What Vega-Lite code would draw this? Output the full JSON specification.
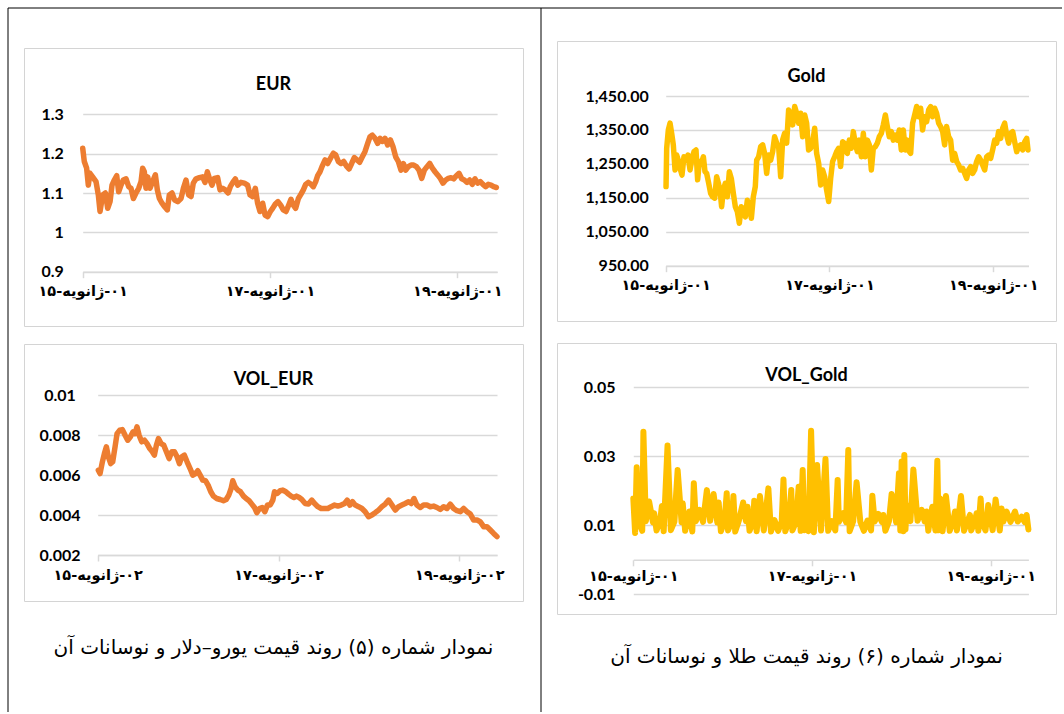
{
  "$schema": "https://vega.github.io/schema/vega-lite/v6.json",
  "padding": {"left": 7, "top": 7, "right": 0, "bottom": 0},
  "background": "#ffffff",
  "config": {
    "view": {"stroke": null},
    "font": "Lato",
    "title": {"font": "Lato", "fontSize": 18, "fontWeight": "bold", "color": "#000000", "anchor": "middle", "frame": "group", "baseline": "alphabetic"},
    "axis": {"labelFont": "Lato", "labelFontSize": 16, "labelFontWeight": "bold", "labelColor": "#000000", "domainColor": "#d9d9d9", "tickColor": "#d9d9d9", "gridColor": "#d9d9d9", "gridWidth": 1.5, "domainWidth": 1.5, "tickWidth": 1.5},
    "axisX": {"labelFont": "DejaVu Sans", "labelFontSize": 14.5, "tickSize": 6, "labelPadding": 7, "labelFlush": false, "labelOverlap": false, "grid": false},
    "axisY": {"domain": false, "ticks": false, "tickSize": 0, "grid": true}
  },
  "datasets": {
    "eur": [
      {"year":2015.000,"value":1.214},{"year":2015.017,"value":1.18},{"year":2015.042,"value":1.163},{"year":2015.060,"value":1.12},{"year":2015.078,"value":1.15},{"year":2015.106,"value":1.141},{"year":2015.142,"value":1.129},{"year":2015.167,"value":1.095},{"year":2015.185,"value":1.053},{"year":2015.213,"value":1.095},{"year":2015.242,"value":1.10},{"year":2015.267,"value":1.061},{"year":2015.292,"value":1.078},{"year":2015.313,"value":1.12},{"year":2015.338,"value":1.133},{"year":2015.363,"value":1.144},{"year":2015.384,"value":1.103},{"year":2015.409,"value":1.12},{"year":2015.434,"value":1.133},{"year":2015.463,"value":1.136},{"year":2015.491,"value":1.116},{"year":2015.516,"value":1.112},{"year":2015.541,"value":1.086},{"year":2015.569,"value":1.10},{"year":2015.598,"value":1.112},{"year":2015.623,"value":1.129},{"year":2015.640,"value":1.163},{"year":2015.658,"value":1.154},{"year":2015.676,"value":1.112},{"year":2015.694,"value":1.141},{"year":2015.719,"value":1.112},{"year":2015.747,"value":1.129},{"year":2015.776,"value":1.146},{"year":2015.797,"value":1.108},{"year":2015.819,"value":1.086},{"year":2015.847,"value":1.074},{"year":2015.875,"value":1.065},{"year":2015.904,"value":1.057},{"year":2015.925,"value":1.095},{"year":2015.954,"value":1.10},{"year":2015.982,"value":1.082},{"year":2016.014,"value":1.078},{"year":2016.050,"value":1.086},{"year":2016.075,"value":1.112},{"year":2016.103,"value":1.133},{"year":2016.132,"value":1.095},{"year":2016.157,"value":1.091},{"year":2016.181,"value":1.125},{"year":2016.210,"value":1.136},{"year":2016.246,"value":1.139},{"year":2016.281,"value":1.141},{"year":2016.306,"value":1.127},{"year":2016.331,"value":1.154},{"year":2016.359,"value":1.133},{"year":2016.381,"value":1.12},{"year":2016.406,"value":1.137},{"year":2016.441,"value":1.139},{"year":2016.466,"value":1.108},{"year":2016.495,"value":1.112},{"year":2016.523,"value":1.108},{"year":2016.552,"value":1.10},{"year":2016.576,"value":1.116},{"year":2016.608,"value":1.129},{"year":2016.630,"value":1.136},{"year":2016.655,"value":1.12},{"year":2016.690,"value":1.127},{"year":2016.726,"value":1.125},{"year":2016.761,"value":1.12},{"year":2016.787,"value":1.095},{"year":2016.815,"value":1.091},{"year":2016.843,"value":1.112},{"year":2016.868,"value":1.074},{"year":2016.893,"value":1.053},{"year":2016.922,"value":1.074},{"year":2016.947,"value":1.044},{"year":2016.975,"value":1.04},{"year":2017.004,"value":1.053},{"year":2017.028,"value":1.061},{"year":2017.057,"value":1.072},{"year":2017.085,"value":1.078},{"year":2017.114,"value":1.069},{"year":2017.142,"value":1.057},{"year":2017.171,"value":1.053},{"year":2017.199,"value":1.069},{"year":2017.224,"value":1.084},{"year":2017.249,"value":1.069},{"year":2017.274,"value":1.061},{"year":2017.303,"value":1.086},{"year":2017.331,"value":1.097},{"year":2017.356,"value":1.108},{"year":2017.381,"value":1.122},{"year":2017.409,"value":1.127},{"year":2017.438,"value":1.122},{"year":2017.463,"value":1.116},{"year":2017.488,"value":1.129},{"year":2017.509,"value":1.144},{"year":2017.534,"value":1.154},{"year":2017.559,"value":1.169},{"year":2017.588,"value":1.184},{"year":2017.616,"value":1.175},{"year":2017.645,"value":1.188},{"year":2017.676,"value":1.201},{"year":2017.701,"value":1.197},{"year":2017.730,"value":1.18},{"year":2017.758,"value":1.175},{"year":2017.787,"value":1.18},{"year":2017.815,"value":1.169},{"year":2017.844,"value":1.161},{"year":2017.872,"value":1.175},{"year":2017.900,"value":1.19},{"year":2017.929,"value":1.184},{"year":2017.957,"value":1.178},{"year":2017.986,"value":1.192},{"year":2018.014,"value":1.205},{"year":2018.043,"value":1.226},{"year":2018.068,"value":1.243},{"year":2018.093,"value":1.247},{"year":2018.121,"value":1.239},{"year":2018.150,"value":1.226},{"year":2018.175,"value":1.239},{"year":2018.199,"value":1.231},{"year":2018.228,"value":1.239},{"year":2018.256,"value":1.222},{"year":2018.285,"value":1.235},{"year":2018.313,"value":1.218},{"year":2018.342,"value":1.192},{"year":2018.370,"value":1.18},{"year":2018.399,"value":1.158},{"year":2018.424,"value":1.175},{"year":2018.449,"value":1.158},{"year":2018.477,"value":1.167},{"year":2018.506,"value":1.171},{"year":2018.534,"value":1.171},{"year":2018.563,"value":1.167},{"year":2018.591,"value":1.158},{"year":2018.620,"value":1.137},{"year":2018.648,"value":1.158},{"year":2018.677,"value":1.167},{"year":2018.705,"value":1.175},{"year":2018.734,"value":1.163},{"year":2018.762,"value":1.154},{"year":2018.790,"value":1.146},{"year":2018.819,"value":1.137},{"year":2018.847,"value":1.125},{"year":2018.876,"value":1.133},{"year":2018.904,"value":1.137},{"year":2018.933,"value":1.139},{"year":2018.961,"value":1.136},{"year":2018.990,"value":1.144},{"year":2019.018,"value":1.15},{"year":2019.047,"value":1.136},{"year":2019.075,"value":1.133},{"year":2019.104,"value":1.127},{"year":2019.132,"value":1.133},{"year":2019.160,"value":1.122},{"year":2019.189,"value":1.136},{"year":2019.217,"value":1.125},{"year":2019.246,"value":1.129},{"year":2019.274,"value":1.122},{"year":2019.303,"value":1.116},{"year":2019.331,"value":1.122},{"year":2019.360,"value":1.12},{"year":2019.388,"value":1.116},{"year":2019.417,"value":1.114}
    ],
    "voleur": [
      {"year":2015.007,"value":0.00625},{"year":2015.026,"value":0.00608},{"year":2015.052,"value":0.00667},{"year":2015.074,"value":0.00708},{"year":2015.096,"value":0.00742},{"year":2015.118,"value":0.00692},{"year":2015.144,"value":0.00658},{"year":2015.166,"value":0.00667},{"year":2015.192,"value":0.00742},{"year":2015.214,"value":0.00808},{"year":2015.244,"value":0.00825},{"year":2015.273,"value":0.00828},{"year":2015.303,"value":0.008},{"year":2015.332,"value":0.00775},{"year":2015.362,"value":0.00792},{"year":2015.391,"value":0.00817},{"year":2015.413,"value":0.00808},{"year":2015.435,"value":0.00842},{"year":2015.458,"value":0.008},{"year":2015.487,"value":0.00767},{"year":2015.517,"value":0.00775},{"year":2015.546,"value":0.00758},{"year":2015.576,"value":0.00733},{"year":2015.605,"value":0.00717},{"year":2015.627,"value":0.007},{"year":2015.649,"value":0.0075},{"year":2015.672,"value":0.00783},{"year":2015.701,"value":0.00758},{"year":2015.731,"value":0.0075},{"year":2015.760,"value":0.00717},{"year":2015.790,"value":0.00683},{"year":2015.819,"value":0.00717},{"year":2015.849,"value":0.00717},{"year":2015.878,"value":0.00692},{"year":2015.904,"value":0.00658},{"year":2015.930,"value":0.00692},{"year":2015.959,"value":0.007},{"year":2015.989,"value":0.00667},{"year":2016.022,"value":0.00633},{"year":2016.052,"value":0.006},{"year":2016.081,"value":0.00608},{"year":2016.107,"value":0.00622},{"year":2016.133,"value":0.006},{"year":2016.162,"value":0.00575},{"year":2016.192,"value":0.00572},{"year":2016.221,"value":0.0055},{"year":2016.251,"value":0.00517},{"year":2016.280,"value":0.00495},{"year":2016.317,"value":0.00483},{"year":2016.354,"value":0.00478},{"year":2016.391,"value":0.00472},{"year":2016.421,"value":0.00478},{"year":2016.450,"value":0.005},{"year":2016.476,"value":0.00533},{"year":2016.494,"value":0.00572},{"year":2016.520,"value":0.00542},{"year":2016.550,"value":0.00525},{"year":2016.579,"value":0.00517},{"year":2016.613,"value":0.00495},{"year":2016.642,"value":0.00483},{"year":2016.675,"value":0.00472},{"year":2016.705,"value":0.00455},{"year":2016.734,"value":0.00438},{"year":2016.760,"value":0.00412},{"year":2016.790,"value":0.00433},{"year":2016.819,"value":0.00438},{"year":2016.849,"value":0.00417},{"year":2016.878,"value":0.0045},{"year":2016.908,"value":0.0045},{"year":2016.937,"value":0.00475},{"year":2016.956,"value":0.00517},{"year":2016.985,"value":0.00508},{"year":2017.018,"value":0.00522},{"year":2017.048,"value":0.00525},{"year":2017.081,"value":0.00517},{"year":2017.111,"value":0.00505},{"year":2017.140,"value":0.00495},{"year":2017.170,"value":0.00488},{"year":2017.199,"value":0.00495},{"year":2017.229,"value":0.00488},{"year":2017.258,"value":0.00478},{"year":2017.295,"value":0.00458},{"year":2017.332,"value":0.00455},{"year":2017.369,"value":0.00475},{"year":2017.399,"value":0.00458},{"year":2017.435,"value":0.00442},{"year":2017.472,"value":0.00433},{"year":2017.509,"value":0.00433},{"year":2017.546,"value":0.00433},{"year":2017.583,"value":0.00442},{"year":2017.620,"value":0.0045},{"year":2017.657,"value":0.00445},{"year":2017.694,"value":0.0045},{"year":2017.731,"value":0.00458},{"year":2017.760,"value":0.00475},{"year":2017.790,"value":0.0045},{"year":2017.819,"value":0.00467},{"year":2017.849,"value":0.0045},{"year":2017.886,"value":0.00442},{"year":2017.923,"value":0.00433},{"year":2017.959,"value":0.00417},{"year":2017.996,"value":0.00392},{"year":2018.033,"value":0.004},{"year":2018.070,"value":0.00412},{"year":2018.107,"value":0.00425},{"year":2018.144,"value":0.00442},{"year":2018.181,"value":0.00455},{"year":2018.218,"value":0.00475},{"year":2018.255,"value":0.0045},{"year":2018.292,"value":0.00425},{"year":2018.328,"value":0.00442},{"year":2018.365,"value":0.0045},{"year":2018.402,"value":0.00458},{"year":2018.439,"value":0.00467},{"year":2018.469,"value":0.00458},{"year":2018.498,"value":0.00483},{"year":2018.531,"value":0.0045},{"year":2018.568,"value":0.00438},{"year":2018.605,"value":0.0045},{"year":2018.642,"value":0.0045},{"year":2018.679,"value":0.00442},{"year":2018.716,"value":0.00445},{"year":2018.753,"value":0.00438},{"year":2018.790,"value":0.00428},{"year":2018.827,"value":0.00442},{"year":2018.863,"value":0.00433},{"year":2018.900,"value":0.00455},{"year":2018.937,"value":0.00433},{"year":2018.974,"value":0.00422},{"year":2019.011,"value":0.00417},{"year":2019.048,"value":0.00433},{"year":2019.085,"value":0.00417},{"year":2019.122,"value":0.00405},{"year":2019.159,"value":0.00375},{"year":2019.196,"value":0.00375},{"year":2019.232,"value":0.00367},{"year":2019.269,"value":0.00342},{"year":2019.306,"value":0.00342},{"year":2019.343,"value":0.00325},{"year":2019.380,"value":0.00308},{"year":2019.417,"value":0.00292}
    ],
    "gold": [
      {"year":2015.004,"value":1183},{"year":2015.012,"value":1296},{"year":2015.032,"value":1350},{"year":2015.053,"value":1370},{"year":2015.073,"value":1340},{"year":2015.093,"value":1306},{"year":2015.114,"value":1232},{"year":2015.134,"value":1276},{"year":2015.154,"value":1261},{"year":2015.175,"value":1237},{"year":2015.199,"value":1217},{"year":2015.223,"value":1271},{"year":2015.248,"value":1261},{"year":2015.272,"value":1276},{"year":2015.297,"value":1232},{"year":2015.321,"value":1266},{"year":2015.346,"value":1286},{"year":2015.370,"value":1291},{"year":2015.390,"value":1203},{"year":2015.411,"value":1257},{"year":2015.435,"value":1252},{"year":2015.460,"value":1271},{"year":2015.480,"value":1227},{"year":2015.500,"value":1222},{"year":2015.525,"value":1193},{"year":2015.549,"value":1163},{"year":2015.573,"value":1153},{"year":2015.598,"value":1149},{"year":2015.622,"value":1212},{"year":2015.643,"value":1193},{"year":2015.663,"value":1173},{"year":2015.683,"value":1124},{"year":2015.704,"value":1173},{"year":2015.728,"value":1193},{"year":2015.753,"value":1153},{"year":2015.777,"value":1227},{"year":2015.801,"value":1207},{"year":2015.826,"value":1163},{"year":2015.850,"value":1124},{"year":2015.875,"value":1109},{"year":2015.899,"value":1075},{"year":2015.923,"value":1124},{"year":2015.948,"value":1114},{"year":2015.972,"value":1094},{"year":2015.997,"value":1143},{"year":2016.021,"value":1124},{"year":2016.046,"value":1090},{"year":2016.070,"value":1153},{"year":2016.094,"value":1183},{"year":2016.111,"value":1261},{"year":2016.135,"value":1271},{"year":2016.160,"value":1301},{"year":2016.184,"value":1306},{"year":2016.208,"value":1281},{"year":2016.233,"value":1222},{"year":2016.257,"value":1276},{"year":2016.282,"value":1261},{"year":2016.306,"value":1286},{"year":2016.330,"value":1330},{"year":2016.355,"value":1311},{"year":2016.379,"value":1301},{"year":2016.404,"value":1212},{"year":2016.428,"value":1321},{"year":2016.452,"value":1340},{"year":2016.477,"value":1311},{"year":2016.501,"value":1409},{"year":2016.526,"value":1394},{"year":2016.550,"value":1365},{"year":2016.575,"value":1419},{"year":2016.599,"value":1399},{"year":2016.623,"value":1370},{"year":2016.648,"value":1399},{"year":2016.672,"value":1330},{"year":2016.697,"value":1394},{"year":2016.721,"value":1370},{"year":2016.745,"value":1291},{"year":2016.770,"value":1296},{"year":2016.794,"value":1311},{"year":2016.819,"value":1355},{"year":2016.843,"value":1281},{"year":2016.868,"value":1252},{"year":2016.892,"value":1188},{"year":2016.916,"value":1232},{"year":2016.941,"value":1212},{"year":2016.965,"value":1173},{"year":2016.990,"value":1139},{"year":2017.014,"value":1207},{"year":2017.038,"value":1257},{"year":2017.063,"value":1271},{"year":2017.087,"value":1286},{"year":2017.112,"value":1296},{"year":2017.136,"value":1242},{"year":2017.161,"value":1315},{"year":2017.181,"value":1311},{"year":2017.193,"value":1291},{"year":2017.218,"value":1281},{"year":2017.242,"value":1320},{"year":2017.267,"value":1296},{"year":2017.291,"value":1345},{"year":2017.315,"value":1311},{"year":2017.340,"value":1286},{"year":2017.364,"value":1320},{"year":2017.389,"value":1271},{"year":2017.413,"value":1340},{"year":2017.437,"value":1271},{"year":2017.462,"value":1320},{"year":2017.486,"value":1306},{"year":2017.511,"value":1232},{"year":2017.535,"value":1296},{"year":2017.560,"value":1301},{"year":2017.584,"value":1311},{"year":2017.608,"value":1330},{"year":2017.633,"value":1340},{"year":2017.657,"value":1365},{"year":2017.682,"value":1394},{"year":2017.706,"value":1360},{"year":2017.730,"value":1330},{"year":2017.755,"value":1345},{"year":2017.779,"value":1320},{"year":2017.804,"value":1335},{"year":2017.828,"value":1320},{"year":2017.852,"value":1350},{"year":2017.877,"value":1291},{"year":2017.901,"value":1350},{"year":2017.926,"value":1291},{"year":2017.950,"value":1320},{"year":2017.975,"value":1286},{"year":2017.991,"value":1281},{"year":2018.015,"value":1370},{"year":2018.040,"value":1394},{"year":2018.064,"value":1419},{"year":2018.089,"value":1389},{"year":2018.113,"value":1414},{"year":2018.137,"value":1350},{"year":2018.162,"value":1389},{"year":2018.186,"value":1374},{"year":2018.211,"value":1409},{"year":2018.235,"value":1419},{"year":2018.259,"value":1389},{"year":2018.284,"value":1414},{"year":2018.308,"value":1399},{"year":2018.333,"value":1370},{"year":2018.357,"value":1360},{"year":2018.382,"value":1345},{"year":2018.406,"value":1306},{"year":2018.430,"value":1360},{"year":2018.455,"value":1330},{"year":2018.479,"value":1320},{"year":2018.504,"value":1261},{"year":2018.528,"value":1281},{"year":2018.553,"value":1257},{"year":2018.577,"value":1247},{"year":2018.601,"value":1232},{"year":2018.626,"value":1237},{"year":2018.650,"value":1222},{"year":2018.675,"value":1207},{"year":2018.699,"value":1232},{"year":2018.724,"value":1242},{"year":2018.748,"value":1222},{"year":2018.772,"value":1232},{"year":2018.797,"value":1257},{"year":2018.821,"value":1271},{"year":2018.846,"value":1261},{"year":2018.870,"value":1247},{"year":2018.895,"value":1232},{"year":2018.919,"value":1271},{"year":2018.943,"value":1276},{"year":2018.968,"value":1266},{"year":2018.992,"value":1291},{"year":2019.017,"value":1320},{"year":2019.041,"value":1311},{"year":2019.065,"value":1345},{"year":2019.090,"value":1325},{"year":2019.114,"value":1355},{"year":2019.139,"value":1370},{"year":2019.163,"value":1335},{"year":2019.188,"value":1311},{"year":2019.212,"value":1340},{"year":2019.237,"value":1345},{"year":2019.261,"value":1315},{"year":2019.286,"value":1286},{"year":2019.310,"value":1301},{"year":2019.334,"value":1306},{"year":2019.359,"value":1291},{"year":2019.383,"value":1315},{"year":2019.408,"value":1325},{"year":2019.424,"value":1291}
    ],
    "volgold": [
      {"year":2015.000,"value":0.0178},{"year":2015.020,"value":0.0078},{"year":2015.038,"value":0.0268},{"year":2015.060,"value":0.0110},{"year":2015.100,"value":0.0084},{"year":2015.113,"value":0.0371},{"year":2015.140,"value":0.0112},{"year":2015.177,"value":0.0169},{"year":2015.220,"value":0.0108},{"year":2015.233,"value":0.0135},{"year":2015.260,"value":0.0085},{"year":2015.300,"value":0.0113},{"year":2015.320,"value":0.0156},{"year":2015.340,"value":0.0083},{"year":2015.383,"value":0.0331},{"year":2015.420,"value":0.0086},{"year":2015.460,"value":0.0111},{"year":2015.496,"value":0.026},{"year":2015.540,"value":0.0109},{"year":2015.553,"value":0.0164},{"year":2015.580,"value":0.0084},{"year":2015.628,"value":0.014},{"year":2015.660,"value":0.0082},{"year":2015.677,"value":0.0222},{"year":2015.700,"value":0.0112},{"year":2015.741,"value":0.0145},{"year":2015.780,"value":0.0110},{"year":2015.823,"value":0.0202},{"year":2015.860,"value":0.0113},{"year":2015.898,"value":0.0191},{"year":2015.940,"value":0.0108},{"year":2015.955,"value":0.0166},{"year":2015.980,"value":0.0083},{"year":2016.020,"value":0.0111},{"year":2016.045,"value":0.0193},{"year":2016.060,"value":0.0085},{"year":2016.100,"value":0.0110},{"year":2016.120,"value":0.0185},{"year":2016.140,"value":0.0082},{"year":2016.180,"value":0.0113},{"year":2016.229,"value":0.0166},{"year":2016.260,"value":0.0112},{"year":2016.278,"value":0.0154},{"year":2016.300,"value":0.0084},{"year":2016.340,"value":0.0109},{"year":2016.353,"value":0.0171},{"year":2016.380,"value":0.0083},{"year":2016.417,"value":0.0185},{"year":2016.460,"value":0.0085},{"year":2016.511,"value":0.0207},{"year":2016.540,"value":0.0082},{"year":2016.580,"value":0.0115},{"year":2016.620,"value":0.0084},{"year":2016.660,"value":0.0111},{"year":2016.680,"value":0.0233},{"year":2016.700,"value":0.0083},{"year":2016.740,"value":0.0112},{"year":2016.767,"value":0.0202},{"year":2016.780,"value":0.0085},{"year":2016.820,"value":0.0110},{"year":2016.850,"value":0.0212},{"year":2016.872,"value":0.0084},{"year":2016.895,"value":0.026},{"year":2016.913,"value":0.0086},{"year":2016.932,"value":0.014},{"year":2016.960,"value":0.0083},{"year":2016.989,"value":0.0374},{"year":2017.020,"value":0.0080},{"year":2017.056,"value":0.0275},{"year":2017.100,"value":0.0085},{"year":2017.150,"value":0.0292},{"year":2017.180,"value":0.0084},{"year":2017.220,"value":0.0112},{"year":2017.260,"value":0.0085},{"year":2017.286,"value":0.0231},{"year":2017.300,"value":0.0110},{"year":2017.349,"value":0.0135},{"year":2017.380,"value":0.0109},{"year":2017.405,"value":0.0318},{"year":2017.420,"value":0.0083},{"year":2017.460,"value":0.0112},{"year":2017.498,"value":0.0225},{"year":2017.540,"value":0.0110},{"year":2017.580,"value":0.0084},{"year":2017.620,"value":0.0114},{"year":2017.660,"value":0.0085},{"year":2017.674,"value":0.0186},{"year":2017.700,"value":0.0111},{"year":2017.741,"value":0.0133},{"year":2017.780,"value":0.0110},{"year":2017.797,"value":0.013},{"year":2017.820,"value":0.0084},{"year":2017.860,"value":0.0112},{"year":2017.890,"value":0.0191},{"year":2017.940,"value":0.0109},{"year":2017.972,"value":0.0251},{"year":2017.987,"value":0.0085},{"year":2018.002,"value":0.0285},{"year":2018.020,"value":0.0083},{"year":2018.032,"value":0.0304},{"year":2018.045,"value":0.0088},{"year":2018.058,"value":0.0159},{"year":2018.100,"value":0.0112},{"year":2018.133,"value":0.0262},{"year":2018.180,"value":0.0113},{"year":2018.226,"value":0.0145},{"year":2018.260,"value":0.0111},{"year":2018.281,"value":0.014},{"year":2018.300,"value":0.0084},{"year":2018.345,"value":0.0154},{"year":2018.380,"value":0.0085},{"year":2018.401,"value":0.0287},{"year":2018.416,"value":0.0086},{"year":2018.431,"value":0.0178},{"year":2018.460,"value":0.0083},{"year":2018.498,"value":0.0185},{"year":2018.540,"value":0.0084},{"year":2018.580,"value":0.0113},{"year":2018.599,"value":0.014},{"year":2018.620,"value":0.0085},{"year":2018.666,"value":0.0185},{"year":2018.700,"value":0.0084},{"year":2018.740,"value":0.0112},{"year":2018.766,"value":0.013},{"year":2018.780,"value":0.0085},{"year":2018.820,"value":0.0111},{"year":2018.841,"value":0.0135},{"year":2018.860,"value":0.0084},{"year":2018.886,"value":0.0178},{"year":2018.900,"value":0.0110},{"year":2018.940,"value":0.0085},{"year":2018.971,"value":0.0159},{"year":2019.020,"value":0.0086},{"year":2019.053,"value":0.0175},{"year":2019.100,"value":0.0085},{"year":2019.120,"value":0.0149},{"year":2019.140,"value":0.0111},{"year":2019.176,"value":0.014},{"year":2019.220,"value":0.0110},{"year":2019.270,"value":0.014},{"year":2019.300,"value":0.0111},{"year":2019.344,"value":0.0125},{"year":2019.380,"value":0.0109},{"year":2019.400,"value":0.013},{"year":2019.420,"value":0.0088}
    ]
  },
  "concat": [
    {
      "concat": [
        {
          "width": 533, "height": 704,
          "data": {"values": [{}]},
          "layer": [
            {"mark": {"type": "rule", "color": "#000000", "strokeWidth": 1}, "encoding": {"x": {"datum": 0, "type": "quantitative", "scale": {"domain": [0, 1], "nice": false, "zero": false}, "axis": null}}},
            {"mark": {"type": "rule", "color": "#000000", "strokeWidth": 1}, "encoding": {"y": {"datum": 1, "type": "quantitative", "scale": {"domain": [0, 1], "nice": false, "zero": false}, "axis": null}}}
          ]
        },
        {
          "vconcat": [
            {"width": 499, "height": 23, "data": {"values": []}, "mark": "point", "encoding": {}},
            {
              "width": 499, "height": 278,
              "view": {"stroke": "#d4d4d4", "strokeWidth": 1},
              "title": {"text": "EUR", "offset": -46},
              "data": {"name": "eur"},
              "mark": {"type": "line", "color": "#ED7D31", "strokeWidth": 5.5, "strokeJoin": "round", "strokeCap": "round"},
              "encoding": {
                "x": {"field": "year", "type": "quantitative",
                  "scale": {"domain": [2015, 2019.425], "range": [58.7, 473.1], "nice": false, "zero": false},
                  "axis": {"orient": "bottom", "offset": -54.3, "values": [2015, 2017, 2019], "title": null,
                    "labelExpr": "datum.value == 2015 ? '\u200f۰۱-ژانویه-۱۵' : datum.value == 2017 ? '\u200f۰۱-ژانویه-۱۷' : '\u200f۰۱-ژانویه-۱۹'"}},
                "y": {"field": "value", "type": "quantitative",
                  "scale": {"domain": [0.9, 1.3], "range": [223.7, 66.3], "nice": false, "zero": false},
                  "axis": {"orient": "left", "offset": -58.7, "values": [0.9, 1.0, 1.1, 1.2, 1.3], "format": "~g", "labelPadding": 19.4, "title": null}}
              }
            },
            {
              "width": 499, "height": 257,
              "view": {"stroke": "#d4d4d4", "strokeWidth": 1},
              "title": {"text": "VOL_EUR", "offset": -45},
              "data": {"name": "voleur"},
              "mark": {"type": "line", "color": "#ED7D31", "strokeWidth": 5.5, "strokeJoin": "round", "strokeCap": "round"},
              "encoding": {
                "x": {"field": "year", "type": "quantitative",
                  "scale": {"domain": [2015, 2019.417], "range": [73.7, 473], "nice": false, "zero": false},
                  "axis": {"orient": "bottom", "offset": -46, "values": [2015, 2017, 2019], "title": null,
                    "labelExpr": "datum.value == 2015 ? '\u200f۰۲-ژانویه-۱۵' : datum.value == 2017 ? '\u200f۰۲-ژانویه-۱۷' : '\u200f۰۲-ژانویه-۱۹'"}},
                "y": {"field": "value", "type": "quantitative",
                  "scale": {"domain": [0.002, 0.01], "range": [211, 51.3], "nice": false, "zero": false},
                  "axis": {"orient": "left", "offset": -73.7, "values": [0.002, 0.004, 0.006, 0.008, 0.01], "format": "~g", "labelAlign": "center", "labelPadding": 38.2, "title": null}}
              }
            },
            {
              "width": 499, "height": 60,
              "data": {"values": [{"caption": "نمودار شماره (۵) روند قیمت یورو–دلار و نوسانات آن"}]},
              "mark": {"type": "text", "font": "DejaVu Sans", "fontSize": 20, "dir": "rtl", "color": "#000000"},
              "encoding": {"text": {"field": "caption", "type": "nominal"}}
            }
          ],
          "spacing": 16
        }
      ],
      "columns": 2,
      "align": "none",
      "spacing": -519
    },
    {
      "concat": [
        {
          "width": 521, "height": 704,
          "data": {"values": [{}]},
          "layer": [
            {"mark": {"type": "rule", "color": "#000000", "strokeWidth": 1}, "encoding": {"x": {"datum": 0, "type": "quantitative", "scale": {"domain": [0, 1], "nice": false, "zero": false}, "axis": null}}},
            {"mark": {"type": "rule", "color": "#000000", "strokeWidth": 1}, "encoding": {"y": {"datum": 1, "type": "quantitative", "scale": {"domain": [0, 1], "nice": false, "zero": false}, "axis": null}}}
          ]
        },
        {
          "vconcat": [
            {"width": 499, "height": 12, "data": {"values": []}, "mark": "point", "encoding": {}},
            {
              "width": 499, "height": 280,
              "view": {"stroke": "#d4d4d4", "strokeWidth": 1},
              "title": {"text": "Gold", "offset": -45.3},
              "data": {"name": "gold"},
              "mark": {"type": "line", "color": "#FFC000", "strokeWidth": 5.5, "strokeJoin": "round", "strokeCap": "round"},
              "encoding": {
                "x": {"field": "year", "type": "quantitative",
                  "scale": {"domain": [2015, 2019.43], "range": [108.7, 471.5], "nice": false, "zero": false},
                  "axis": {"orient": "bottom", "offset": -55.3, "values": [2015, 2017, 2019], "title": null,
                    "labelExpr": "datum.value == 2015 ? '\u200f۰۱-ژانویه-۱۵' : datum.value == 2017 ? '\u200f۰۱-ژانویه-۱۷' : '\u200f۰۱-ژانویه-۱۹'"}},
                "y": {"field": "value", "type": "quantitative",
                  "scale": {"domain": [950, 1450], "range": [224.7, 55], "nice": false, "zero": false},
                  "axis": {"orient": "left", "offset": -108.7, "values": [950, 1050, 1150, 1250, 1350, 1450], "format": ",.2f", "labelPadding": 17.4, "title": null}}
              }
            },
            {
              "width": 499, "height": 271,
              "view": {"stroke": "#d4d4d4", "strokeWidth": 1},
              "title": {"text": "VOL_Gold", "offset": -42.2},
              "data": {"name": "volgold"},
              "mark": {"type": "line", "color": "#FFC000", "strokeWidth": 6, "strokeJoin": "round", "strokeCap": "round"},
              "encoding": {
                "x": {"field": "year", "type": "quantitative",
                  "scale": {"domain": [2015, 2019.42], "range": [76.3, 471.4], "nice": false, "zero": false},
                  "axis": {"orient": "bottom", "offset": -54.2, "values": [2015, 2017, 2019], "title": null, "labelPadding": 4,
                    "labelExpr": "datum.value == 2015 ? '\u200f۰۱-ژانویه-۱۵' : datum.value == 2017 ? '\u200f۰۱-ژانویه-۱۷' : '\u200f۰۱-ژانویه-۱۹'"}},
                "y": {"field": "value", "type": "quantitative",
                  "scale": {"domain": [-0.01, 0.05], "range": [251.3, 44.3], "nice": false, "zero": false},
                  "axis": {"orient": "left", "offset": -76.3, "values": [-0.01, 0.01, 0.03, 0.05], "labelExpr": "datum.value < 0 ? '-0.01' : format(datum.value, '.2f')", "labelPadding": 18.3, "title": null}}
              }
            },
            {
              "width": 499, "height": 44,
              "data": {"values": [{"caption": "نمودار شماره (۶) روند قیمت طلا و نوسانات آن"}]},
              "mark": {"type": "text", "font": "DejaVu Sans", "fontSize": 20, "dir": "rtl", "color": "#000000"},
              "encoding": {"text": {"field": "caption", "type": "nominal"}}
            }
          ],
          "spacing": 20
        }
      ],
      "columns": 2,
      "align": "none",
      "spacing": -507
    }
  ],
  "columns": 2,
  "align": "none",
  "spacing": -2
}
